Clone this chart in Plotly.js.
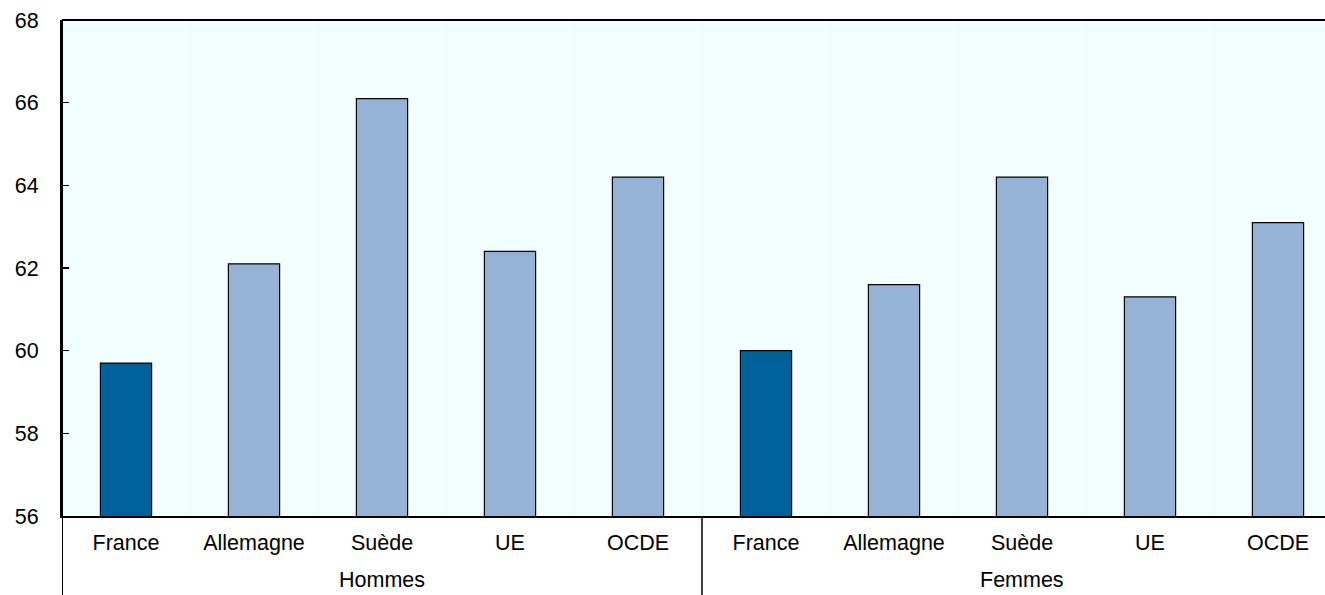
<!DOCTYPE html>
<html><head><meta charset="utf-8">
<script src="https://cdn.plot.ly/plotly-3.0.1.min.js"></script>
<style>html,body{margin:0;padding:0;overflow:hidden;background:#fff}</style>
</head><body><div id="chart"></div>
<script>
const countries = ["France","Allemagne","Suède","UE","OCDE"];
const groups = ["Hommes","Femmes"];
const hommes = [59.7, 62.1, 66.1, 62.4, 64.2];
const femmes = [60.0, 61.6, 64.2, 61.3, 63.1];
const yTicks = [56,58,60,62,64,66,68];

const FONT = "Liberation Sans, Arial, sans-serif";
const values = hommes.concat(femmes);
const labels = countries.concat(countries);
const xs = values.map((v,i)=>i);
const colors = labels.map(c => c === "France" ? "#00609A" : "#95B3D7");

const n = values.length;
const boundaries = [];
for (let i=0;i<n-1;i++) boundaries.push(i+0.5);

const trace = {
  type:"bar", x: xs, y: values, width: 0.4,
  marker:{color: colors, line:{color:"#000000", width:1.2}},
  hoverinfo:"skip"
};

const shapes = [
  {type:"line", xref:"x", yref:"paper", x0:-0.5, x1:-0.5, y0:-0.16, y1:1, line:{color:"#000", width:2}},
  {type:"line", xref:"x", yref:"paper", x0:countries.length-0.5, x1:countries.length-0.5, y0:-0.16, y1:0, line:{color:"#000", width:1.5}},
  {type:"line", xref:"paper", yref:"paper", x0:0, x1:1, y0:1, y1:1, line:{color:"#000", width:2}}
];

const annotations = groups.map((g,gi)=>({
  text:g, xref:"x", yref:"paper", x: gi*countries.length + (countries.length-1)/2,
  y:-0.129, yanchor:"middle", showarrow:false,
  font:{family:FONT, size:21.5, color:"#000"}
}));

const layout = {
  width: 1344, height: 595,
  margin:{l:62, r:2, t:20, b:79},
  paper_bgcolor:"#ffffff", plot_bgcolor:"#F2FFFF",
  showlegend:false,
  font:{family:FONT, size:21.5, color:"#000"},
  xaxis:{
    range:[-0.5, n-0.5], tickvals: xs, ticktext: labels, ticks:"",
    showgrid:false, zeroline:false, showline:true, linecolor:"#000", linewidth:2,
    ticklabelstandoff: 6,
    minor:{tickvals: boundaries, showgrid:true, gridcolor:"#EAF8F8", gridwidth:1, ticks:""},
    tickfont:{size:21.5}
  },
  yaxis:{
    range:[56,68], tickvals: yTicks, ticks:"inside", ticklen:7, tickcolor:"#000", tickwidth:1.5,
    showgrid:false, zeroline:false, showline:true, linecolor:"#000", linewidth:2,
    ticklabelstandoff: 17, tickfont:{size:21.5}
  },
  shapes: shapes, annotations: annotations
};

Plotly.newPlot("chart",[trace],layout,{displayModeBar:false, staticPlot:true});
</script></body></html>
